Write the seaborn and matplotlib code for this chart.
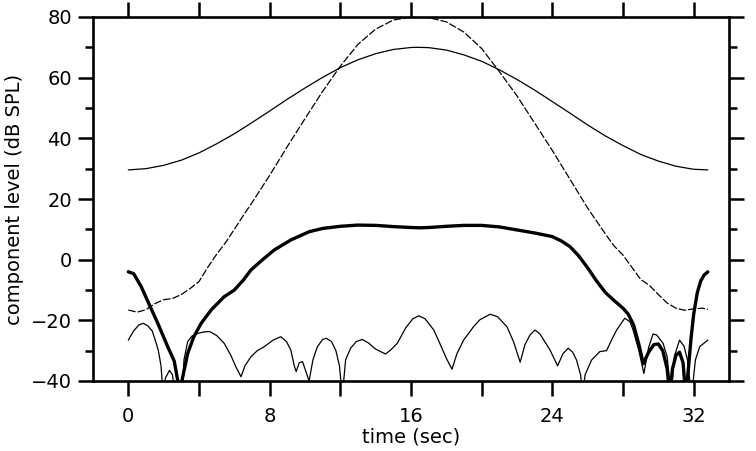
import numpy as np
import pandas as pd
import matplotlib
matplotlib.use("Agg")
import matplotlib.pyplot as plt
import seaborn as sns
from matplotlib.ticker import FixedLocator, MultipleLocator

# ---------------- data ----------------
t_env = [0, 1, 2, 3, 4, 5, 6, 7, 8, 9, 10, 11, 12, 13, 14, 15, 16, 16.4, 17, 18,
         19, 20, 21, 22, 23, 24, 25, 26, 27, 28, 29, 30, 31, 32, 32.8]
env = [29.6, 30.0, 31.1, 32.8, 35.2, 38.2, 41.5, 45.2, 49.0, 52.9, 56.6, 60.1, 63.3,
       65.9, 67.9, 69.3, 69.95, 70.0, 69.9, 69.1, 67.5, 65.4, 62.6, 59.4, 55.9, 52.1,
       48.3, 44.4, 40.8, 37.6, 34.7, 32.5, 30.8, 29.8, 29.6]

t_dash = [0, 0.5, 1, 1.5, 2, 2.5, 3, 3.5, 4, 4.5, 5, 5.5, 6, 6.5, 7, 8, 9, 10, 11, 12,
          13, 14, 15, 16, 16.4, 17, 18, 19, 20, 21, 22, 23, 24, 25, 26, 27, 27.5, 28,
          28.5, 29, 29.5, 30, 30.5, 31, 31.5, 32, 32.5, 32.8]
dash = [-16.6, -17.3, -16.5, -14.5, -13.2, -12.8, -11.5, -9.5, -7.2, -2.5, 1.8, 5.6,
        10.0, 14.5, 18.8, 27.8, 37.3, 46.5, 55.5, 63.8, 71.0, 76.0, 79.0, 80.0, 80.2,
        79.8, 78.4, 75.0, 69.6, 62.0, 54.0, 45.0, 36.0, 26.5, 17.0, 8.5, 4.5, 1.5,
        -2.5, -6.5, -8.5, -11.5, -14.3, -16.0, -16.7, -16.2, -16.0, -16.4]

t_thick = [0, 0.3, 0.73, 1.2, 1.67, 2.23, 2.6, 2.8, 2.9, 3.03, 3.36, 3.7, 4.12, 4.7,
           5.43, 6.0, 6.5, 6.94, 7.6, 8.26, 9.2, 10.23, 11, 12, 13, 14, 15, 16, 16.5,
           17, 18, 19, 20, 21, 22, 23, 24, 24.5, 25, 25.5, 26, 26.5, 27, 27.5, 28,
           28.3, 28.6, 28.9, 29.15, 29.45, 29.75, 30.0, 30.25, 30.5, 30.65, 30.8, 31.0,
           31.2, 31.4, 31.55, 31.7, 31.85, 32.0, 32.2, 32.4, 32.6, 32.8]
thick = [-4.0, -4.6, -8.9, -15.0, -21.0, -28.7, -33.5, -40.0, -48.0, -40.0, -30.9,
         -25.5, -21.0, -16.5, -12.2, -10.0, -6.8, -3.4, 0.0, 3.2, 6.5, 9.2, 10.3, 11.0,
         11.4, 11.3, 10.9, 10.6, 10.5, 10.6, 11.0, 11.3, 11.3, 10.8, 9.8, 8.8, 7.6, 6.2,
         4.3, 1.2, -2.7, -7.0, -10.8, -13.5, -16.0, -18.0, -21.5, -28.0, -34.3, -30.5,
         -28.0, -27.8, -30.0, -36.0, -45.0, -36.0, -31.5, -30.5, -34.0, -45.0, -36.0,
         -26.0, -18.0, -11.0, -7.0, -5.0, -4.0]

t_thin = [0, 0.3, 0.6, 0.85, 1.1, 1.35, 1.55, 1.7, 1.85, 1.98, 2.1, 2.33, 2.5, 2.65,
          2.85, 3.05, 3.15, 3.36, 3.6, 3.93, 4.3, 4.6, 5.0, 5.43, 5.8, 6.1, 6.38, 6.6,
          6.94, 7.3, 7.69, 8.2, 8.63, 8.95, 9.2, 9.39, 9.5, 9.67, 9.86, 10.0, 10.23,
          10.45, 10.7, 11.0, 11.2, 11.5, 11.75, 11.95, 12.11, 12.3, 12.58, 12.9, 13.24,
          13.6, 14.0, 14.56, 14.9, 15.22, 15.7, 16.1, 16.44, 16.8, 17.29, 17.7, 18.0,
          18.32, 18.6, 18.98, 19.54, 19.9, 20.48, 20.9, 21.43, 21.8, 22.18, 22.45,
          22.74, 23.02, 23.3, 23.87, 24.3, 24.6, 24.9, 25.15, 25.37, 25.6, 25.72, 25.85,
          26.22, 26.69, 27.07, 27.35, 27.64, 28.1, 28.4, 28.57, 28.9, 29.18, 29.45,
          29.7, 29.9, 30.27, 30.5, 30.72, 30.9, 31.2, 31.45, 31.65, 31.88, 32.1, 32.34,
          32.8]
thin = [-26.5, -23.5, -21.5, -21.0, -21.8, -23.5, -27.0, -30.0, -35.0, -45.0, -39.0,
        -36.5, -38.0, -45.0, -48.0, -45.0, -33.0, -27.0, -25.2, -24.3, -23.8, -23.7,
        -25.0, -27.6, -31.5, -35.5, -38.6, -35.0, -32.0, -30.0, -28.7, -26.5, -25.4,
        -27.0, -29.8, -35.0, -36.9, -34.0, -33.6, -36.0, -40.0, -33.0, -28.7, -26.3,
        -25.9, -27.0, -30.0, -35.0, -45.0, -33.0, -29.2, -27.0, -26.3, -27.5, -29.5,
        -31.1, -29.5, -27.6, -22.5, -19.5, -18.5, -19.5, -23.2, -28.5, -32.5, -36.1,
        -31.0, -26.5, -22.1, -19.8, -18.0, -18.8, -22.1, -27.0, -33.8, -28.0, -24.8,
        -23.2, -24.5, -29.8, -35.0, -31.0, -29.2, -30.5, -33.1, -38.0, -45.0, -38.0,
        -33.1, -30.3, -30.0, -26.5, -23.2, -19.3, -20.5, -23.2, -30.0, -37.5, -29.0,
        -24.5, -24.8, -27.6, -32.0, -45.0, -32.0, -26.5, -28.5, -33.0, -45.0, -33.0,
        -28.7, -26.5]

x_ticks = [0, 4, 8, 12, 16, 20, 24, 28, 32]
x_labels = ["0", "", "8", "", "16", "", "24", "", "32"]
y_ticks = [-40, -20, 0, 20, 40, 60, 80]

# ---------------- figure ----------------
sns.set_style("ticks")
plt.rcParams["font.family"] = ["DejaVu Sans"]
plt.rcParams["axes.unicode_minus"] = True
plt.rcParams["text.color"] = "black"
plt.rcParams["axes.labelcolor"] = "black"

fig = plt.figure(figsize=(7.56, 4.51), dpi=100)
ax = fig.add_axes([93 / 756, 1 - 381 / 451, (729 - 93) / 756, (381 - 17) / 451])

sns.lineplot(x=t_env, y=env, ax=ax, color="black", linewidth=0.9)
sns.lineplot(x=t_dash, y=dash, ax=ax, color="black", linewidth=0.9,
             linestyle=(0, (6, 1.6)))
sns.lineplot(x=t_thin, y=thin, ax=ax, color="black", linewidth=0.9)
sns.lineplot(x=t_thick, y=thick, ax=ax, color="black", linewidth=2.4)

ax.set_xlim(-2, 34)
ax.set_ylim(-40, 80)

ax.xaxis.set_major_locator(FixedLocator(x_ticks))
ax.set_xticklabels(x_labels)
ax.yaxis.set_major_locator(FixedLocator(y_ticks))
ax.yaxis.set_minor_locator(MultipleLocator(10))

for s in ax.spines.values():
    s.set_linewidth(1.9)
    s.set_color("black")

ax.tick_params(axis="x", which="major", direction="out", length=11, width=1.8,
               top=True, bottom=True, labelsize=14, pad=8, colors="black")
ax.tick_params(axis="y", which="major", direction="out", length=11, width=1.8,
               left=True, right=True, labelsize=14, pad=4, colors="black")
ax.tick_params(axis="y", which="minor", direction="out", length=5.5, width=1.8,
               left=True, right=True, colors="black")

ax.set_xlabel("time (sec)", fontsize=14, labelpad=1, color="black")
ax.set_ylabel("component level (dB SPL)", fontsize=14, labelpad=5, color="black")

fig.savefig("out.png", dpi=100)
